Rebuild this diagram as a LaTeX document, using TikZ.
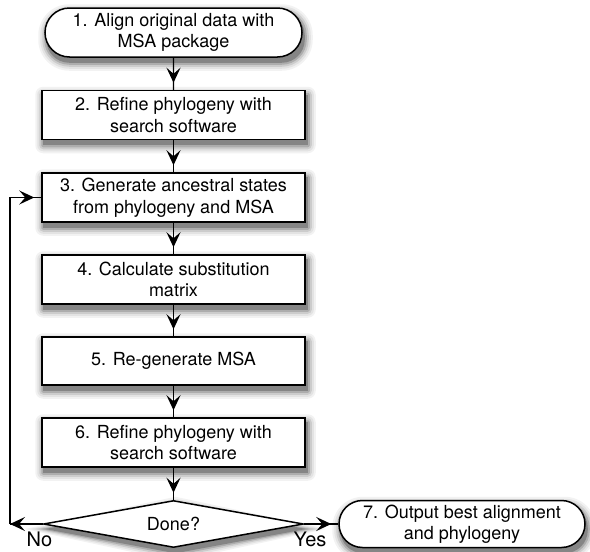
\documentclass[tikz,border=0pt]{standalone}
\usepackage{fontspec}
\setmainfont{TeX Gyre Heros}
\usetikzlibrary{shapes.misc, shapes.geometric, arrows.meta, decorations.markings, backgrounds}
\tikzset{process node/.style={rectangle, draw, line width=1.5pt, fill=white, minimum width=263pt, minimum height=49pt, inner sep=3pt, align=center, font=\fontsize{18}{21.5}\selectfont},
  terminal node/.style={process node, rounded rectangle},
  decision node/.style={diamond, draw, line width=1.5pt, fill=white, aspect=5.5, inner sep=0pt, minimum width=260pt, minimum height=47pt, font=\fontsize{18}{21.5}\selectfont},
  answer/.style={inner sep=0pt, font=\fontsize{20}{24}\selectfont},
  flow arrow/.style={line width=1.4pt, postaction={decorate}, decoration={markings, mark=at position #1 with {\arrow{Stealth[length=15pt, width=14pt, inset=6pt]}}}},
  flow arrow/.default=-7pt
}
\begin{document}
\begin{tikzpicture}[x=1pt, y=-1pt]
  \useasboundingbox (0,0) rectangle (590,552);
  % Main steps
  \node[terminal node] (align) at (173.5,32.5) {1. Align original data with\\MSA package};
  \node[process node] (refine) at (173.5,115) {2. Refine phylogeny with\\search software};
  \node[process node] (ancestral) at (173.5,197.5) {3. Generate ancestral states\\from phylogeny and MSA};
  \node[process node] (matrix) at (173.5,279.5) {4. Calculate substitution\\matrix};
  \node[process node, minimum height=48pt] (realign) at (173.5,361) {5. Re-generate MSA};
  \node[process node] (rerefine) at (173.5,442.5) {6. Refine phylogeny with\\search software};
  % Decision and output
  \node[decision node] (done) at (173.5,524) {Done?};
  \node[terminal node, minimum width=252pt, minimum height=47pt] (output) at (462,524) {7. Output best alignment\\and phylogeny};
  % Soft shadows behind the shapes
  \begin{scope}[on background layer]
    \foreach \grow/\shade in {8/5, 6/11, 4/20, 2/32, 0/48} {
      \foreach \n in {refine, ancestral, matrix, realign, rerefine}
        \fill[black!\shade, rounded corners=\grow pt] ([shift={(2-\grow,5+\grow)}]\n.south west) rectangle ([shift={(2+\grow,5-\grow)}]\n.north east);
      \foreach \n in {align, output}
        \fill[black!\shade, rounded corners=23pt+\grow pt] ([shift={(2-\grow,5+\grow)}]\n.west |- \n.south) rectangle ([shift={(2+\grow,5-\grow)}]\n.east |- \n.north);
      \fill[black!\shade] ([shift={(2,5-\grow)}]done.north) -- ([shift={(2+2.5*\grow,5)}]done.east) -- ([shift={(2,5+\grow)}]done.south) -- ([shift={(2-2.5*\grow,5)}]done.west) -- cycle;
    }
  \end{scope}
  % Loop back corners
  \coordinate (loop low) at (10,524);
  \coordinate (loop high) at (10,197.5);
  % Connections
  \draw[flow arrow] (align) -- (refine);
  \draw[flow arrow] (refine) -- (ancestral);
  \draw[flow arrow] (ancestral) -- (matrix);
  \draw[flow arrow] (matrix) -- (realign);
  \draw[flow arrow] (realign) -- (rerefine);
  \draw[flow arrow] (rerefine) -- (done);
  \draw[flow arrow=1] (done) -- node[answer, below=7pt, pos=0.1] {No} (loop low);
  \draw[flow arrow] (loop low) -- (loop high) -- (ancestral);
  \draw[flow arrow] (done) -- node[answer, below=7pt, pos=0.17] {Yes} (output);
\end{tikzpicture}
\end{document}
